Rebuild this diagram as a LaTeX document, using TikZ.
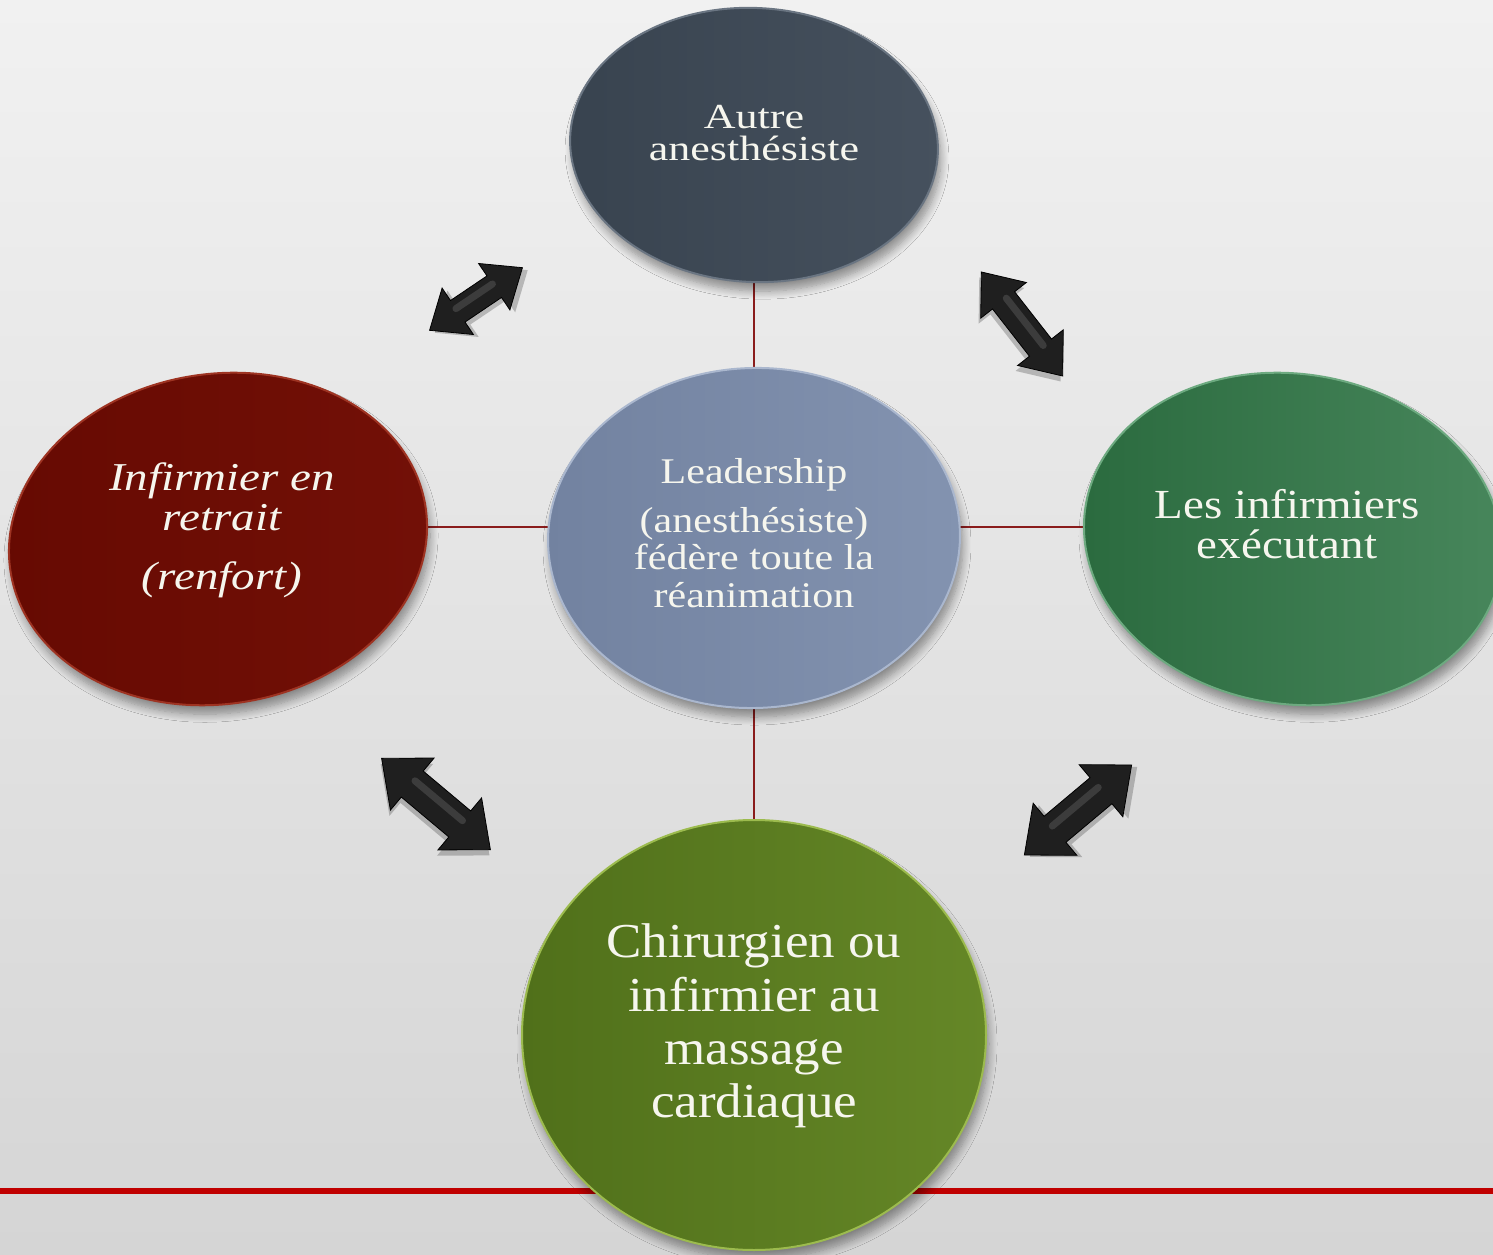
\documentclass[tikz,border=0pt]{standalone}
\usepackage{fontspec}
\setmainfont{Liberation Serif}
\usetikzlibrary{shapes.geometric,shadows.blur}
\definecolor{bgtop}{HTML}{F1F1F1}
\definecolor{bgbot}{HTML}{D5D5D5}
\definecolor{slateL}{HTML}{38434F}\definecolor{slateR}{HTML}{46515E}\definecolor{slateRim}{HTML}{6A7582}
\definecolor{blueL}{HTML}{7282A0}\definecolor{blueR}{HTML}{8393B0}\definecolor{blueRim}{HTML}{AAB7CE}
\definecolor{redL}{HTML}{660A02}\definecolor{redR}{HTML}{731007}\definecolor{redRim}{HTML}{9E3322}
\definecolor{grnL}{HTML}{2A6A3E}\definecolor{grnR}{HTML}{48875C}\definecolor{grnRim}{HTML}{6DAA80}
\definecolor{oliveL}{HTML}{50701A}\definecolor{oliveR}{HTML}{658727}\definecolor{oliveRim}{HTML}{9CBB4E}
\definecolor{linkred}{HTML}{8A1C1C}
\definecolor{barred}{HTML}{C00000}
\definecolor{txtwhite}{HTML}{F6F6EE}
\tikzset{
  disc/.style={ellipse, inner sep=0pt, line width=2pt,
    blur shadow={shadow blur steps=10, shadow xshift=3pt, shadow yshift=-9pt, shadow opacity=40, shadow blur radius=8pt}},
  link/.style={draw=linkred, line width=2.8pt},
  lbl/.style={text=txtwhite, inner sep=0pt, align=center},
  arrowfill/.style={fill=black!88, draw=black, line width=0.8pt, line join=miter},
  arrowshadow/.style={fill=black, opacity=0.22},
  arrowshine/.style={draw=black!55, line width=7pt, opacity=0.35, line cap=round},
}
\newcommand\dblarrow[8]{%
  \begin{scope}[shift={(#2,#3)},rotate=#4]
    \pgfmathsetmacro\aL{#5/2}\pgfmathsetmacro\aB{#5/2-#8}\pgfmathsetmacro\aS{#6*0.25}
    \path[arrowshadow, shift={(3,-5)}] (-\aL,0) -- (-\aB,#7) -- (-\aB,#6) -- (\aB,#6) -- (\aB,#7) -- (\aL,0)
      -- (\aB,-#7) -- (\aB,-#6) -- (-\aB,-#6) -- (-\aB,-#7) -- cycle;
    \path[arrowfill] (-\aL,0) -- (-\aB,#7) -- (-\aB,#6) -- (\aB,#6) -- (\aB,#7) -- (\aL,0)
      -- (\aB,-#7) -- (\aB,-#6) -- (-\aB,-#6) -- (-\aB,-#7) -- cycle;
    \draw[arrowshine] (-\aB,\aS) -- (\aB,\aS);
    \coordinate (#1) at (0,0);
  \end{scope}}
\begin{document}
\begin{tikzpicture}[x=1pt,y=1pt]
\useasboundingbox (0,0) rectangle (1493,1254);
\fill[top color=bgtop, bottom color=bgbot] (0,0) rectangle (1493,1254);
% disc centres
\coordinate (tc) at (754,1109);
\coordinate (cc) at (754,716);
\coordinate (lc) at (218,715);
\coordinate (rc) at (1293,715);
\coordinate (bc) at (754,219);
% connectors
\draw[link] (cc) -- (tc);
\draw[link] (cc) -- (bc);
\draw[link] ([yshift=11pt]cc) -- ([yshift=12pt]lc);
\draw[link] ([yshift=11pt]cc) -- ([yshift=12pt]rc);
\draw[barred, line width=6pt] (0,63) -- (1493,63);
% discs
\node[disc, left color=slateL, right color=slateR, draw=slateRim, minimum width=368pt, minimum height=274pt, rotate=-3] (t) at (tc) {};
\node[disc, left color=blueL, right color=blueR, draw=blueRim, minimum width=412pt, minimum height=340pt, rotate=2] (c) at (cc) {};
\node[disc, left color=redL, right color=redR, draw=redRim, minimum width=420pt, minimum height=330pt, rotate=9] (l) at (lc) {};
\node[disc, left color=grnL, right color=grnR, draw=grnRim, minimum width=420pt, minimum height=330pt, rotate=-9] (r) at (rc) {};
\node[disc, left color=oliveL, right color=oliveR, draw=oliveRim, minimum width=464pt, minimum height=430pt] (b) at (bc) {};
% labels
\node[lbl] (tt) at (754,1121) {\scalebox{1}[0.8]{\parbox{400pt}{\centering\fontsize{44}{41}\selectfont Autre\\anesthésiste}}};
\node[lbl] (ct) at (754,721) {\scalebox{1}[0.86]{\parbox{400pt}{\centering\fontsize{42}{44}\selectfont Leadership\\[13pt](anesthésiste)\\fédère toute la\\réanimation}}};
\node[lbl] (lt) at (222,724) {\scalebox{1}[0.84]{\parbox{400pt}{\centering\itshape\fontsize{47}{48}\selectfont Infirmier en\\retrait\\[22pt](renfort)}}};
\node[lbl] (rt) at (1287,730) {\scalebox{1}[0.88]{\parbox{400pt}{\centering\fontsize{47}{45}\selectfont Les infirmiers\\exécutant}}};
\node[lbl] (bt) at (754,228) {\scalebox{1}[0.92]{\parbox{440pt}{\centering\fontsize{53}{58}\selectfont Chirurgien ou\\infirmier au\\massage\\cardiaque}}};
% double arrows
\dblarrow{a1}{476}{955}{34}{112}{13}{28}{34}
\dblarrow{a2}{1022}{930}{-52}{132}{14}{29}{36}
\dblarrow{a3}{436}{450}{-40}{142}{17}{34}{40}
\dblarrow{a4}{1078}{444}{40}{140}{17}{34}{40}
\end{tikzpicture}
\end{document}
